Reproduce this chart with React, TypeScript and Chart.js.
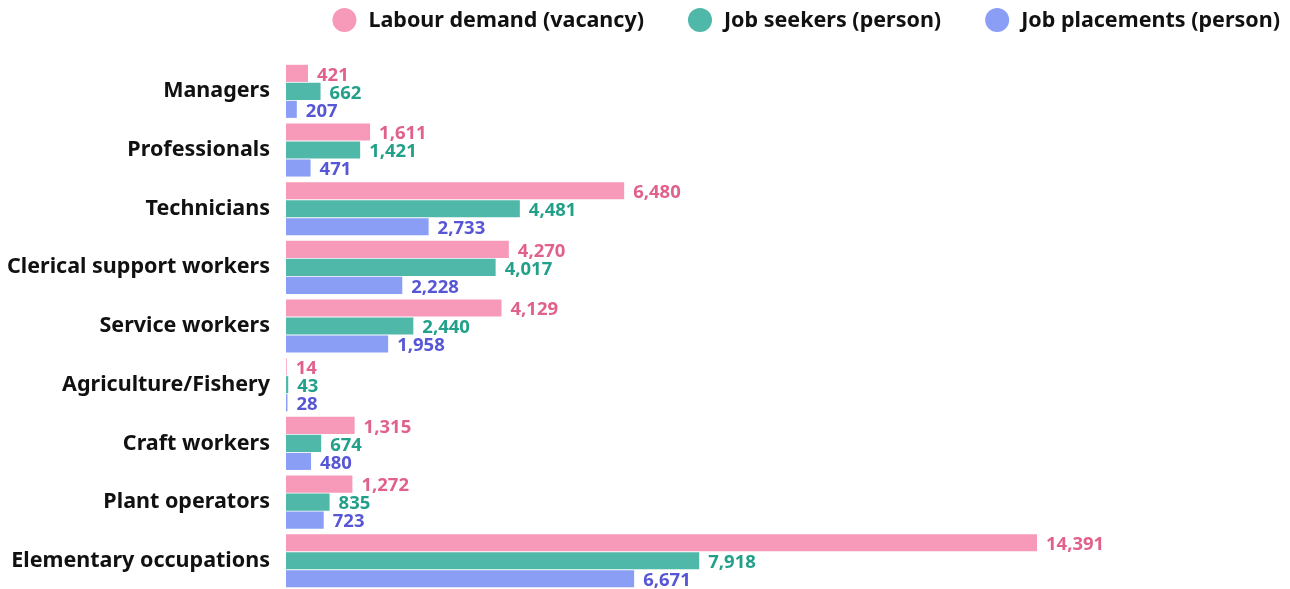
import React, { useEffect, useRef } from "react";
import { Chart, registerables } from "chart.js";

Chart.register(...registerables);

const categories = [
  "Managers",
  "Professionals",
  "Technicians",
  "Clerical support workers",
  "Service workers",
  "Agriculture/Fishery",
  "Craft workers",
  "Plant operators",
  "Elementary occupations",
];
const labourDemand = [421, 1611, 6480, 4270, 4129, 14, 1315, 1272, 14391];
const jobSeekers = [662, 1421, 4481, 4017, 2440, 43, 674, 835, 7918];
const jobPlacements = [207, 471, 2733, 2228, 1958, 28, 480, 723, 6671];
const seriesNames = ["Labour demand (vacancy)", "Job seekers (person)", "Job placements (person)"];
const barColors = ["#f799b9", "#50b8a8", "#8a9ef5"];
const textColors = ["#e0628a", "#22a08a", "#5656d6"];

const FONT = "'Noto Sans', sans-serif";

const valueLabels = {
  id: "valueLabels",
  afterDatasetsDraw(chart: any) {
    const ctx = chart.ctx;
    ctx.save();
    ctx.font = `bold 18.5px ${FONT}`;
    ctx.textBaseline = "middle";
    ctx.textAlign = "left";
    chart.data.datasets.forEach((ds: any, di: number) => {
      const meta = chart.getDatasetMeta(di);
      if (meta.hidden) return;
      meta.data.forEach((el: any, i: number) => {
        const v = ds.data[i];
        ctx.fillStyle = textColors[di];
        ctx.fillText(v.toLocaleString("en-US"), el.x + 9, el.y + 2);
      });
    });
    ctx.restore();
  },
};

const customLegend = {
  id: "customLegend",
  afterDraw(chart: any) {
    const ctx = chart.ctx;
    ctx.save();
    ctx.font = `bold 21.5px ${FONT}`;
    ctx.textBaseline = "middle";
    ctx.textAlign = "left";
    const r = 12;
    const gapCircleText = 12;
    const gapItems = 44;
    const y = 12;
    const names = chart.data.datasets.map((d: any) => d.label);
    const widths = names.map((n: string) => 2 * r + gapCircleText + ctx.measureText(n).width);
    const total = widths.reduce((a: number, b: number) => a + b, 0) + gapItems * (names.length - 1);
    let x = chart.width - 2 - total;
    names.forEach((n: string, i: number) => {
      ctx.fillStyle = barColors[i];
      ctx.beginPath();
      ctx.arc(x + r, y, r, 0, Math.PI * 2);
      ctx.fill();
      ctx.fillStyle = "#111111";
      ctx.fillText(n, x + 2 * r + gapCircleText, y + 1);
      x += widths[i] + gapItems;
    });
    ctx.restore();
  },
};

export default function App() {
  const ref = useRef<HTMLCanvasElement>(null);
  useEffect(() => {
    if (!ref.current) return;
    const data = [labourDemand, jobSeekers, jobPlacements];
    const chart = new Chart(ref.current, {
      type: "bar",
      data: {
        labels: categories,
        datasets: data.map((d, i) => ({
          label: seriesNames[i],
          data: d,
          backgroundColor: barColors[i],
          borderWidth: 0,
          categoryPercentage: 0.92,
          barPercentage: 0.95,
        })),
      },
      options: {
        indexAxis: "y",
        animation: false,
        responsive: true,
        maintainAspectRatio: false,
        layout: { padding: { top: 54, right: 0, bottom: 0, left: 0 } },
        scales: {
          x: { display: false, min: 0, max: 19086 },
          y: {
            grid: { display: false, drawTicks: false },
            border: { display: false },
            afterFit: (scale: any) => {
              scale.width = 278;
            },
            ticks: {
              color: "#111111",
              padding: 16,
              font: { family: FONT, size: 21.5, weight: "bold" },
            },
          },
        },
        plugins: {
          legend: { display: false },
          tooltip: { enabled: false },
        },
      },
      plugins: [valueLabels, customLegend],
    });
    return () => chart.destroy();
  }, []);
  return (
    <div style={{ width: 1274, height: 581, overflow: "hidden" }}>
      <div style={{ width: 1274, height: 611, position: "relative" }}>
        <canvas ref={ref} />
      </div>
    </div>
  );
}
